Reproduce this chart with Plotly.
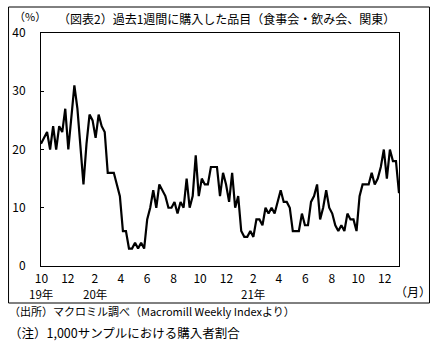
import pandas as pd
import plotly.graph_objects as go

# Weekly share of purchasers (%), Oct 2019 - Dec 2021
values_2019 = [21, 22, 23, 20, 24, 20, 24, 23, 27, 20, 26, 31, 27]
values_2020 = [20, 14, 21, 26, 25, 22, 26, 24, 23, 16, 16, 16, 14, 12, 6, 6, 3, 3, 4, 3,
               4, 3, 8, 10, 13, 10, 14, 13, 12, 10, 10, 11, 9, 11, 10, 15, 10, 12, 19, 12,
               15, 14, 14, 17, 17, 17, 12, 16, 14, 11, 16, 10, 12]
values_2021 = [6, 5, 5, 6, 5, 8, 8, 7, 10, 9, 10, 9, 11, 13, 11, 11, 10, 6, 6, 6,
               9, 7, 7, 11, 12, 14, 8, 10, 13, 10, 9, 7, 6, 7, 6, 9, 8, 8, 6, 12,
               14, 14, 14, 16, 14, 15, 17, 20, 15, 20, 18, 18, 12.5]
values = values_2019 + values_2020 + values_2021
weeks = pd.date_range("2019-09-30", periods=len(values), freq="7D")

tick_dates = ["2019-10-01", "2019-12-01", "2020-02-01", "2020-04-01", "2020-06-01",
              "2020-08-01", "2020-10-01", "2020-12-01", "2021-02-01", "2021-04-01",
              "2021-06-01", "2021-08-01", "2021-10-01", "2021-12-01"]
tick_labels = ["10", "12", "2", "4", "6", "8", "10", "12", "2", "4", "6", "8", "10", "12"]
year_dates = ["2019-10-01", "2020-02-01", "2021-02-01"]
year_labels = ["19年", "20年", "21年"]

title = "（図表2）過去1週間に購入した品目（食事会・飲み会、関東）"
note1 = "（出所）マクロミル調べ（Macromill Weekly Indexより）"
note2 = "（注）1,000サンプルにおける購入者割合"

FONT = "Noto Sans CJK JP"
L, R, T, B = 35, 399, 33, 266
W, H = 444, 344


def px(x):
    return (x - L) / (R - L)


def py(y):
    return (B - y) / (B - T)


fig = go.Figure()
fig.add_trace(go.Scatter(x=weeks, y=values, mode="lines",
                         line=dict(color="black", width=2.2), showlegend=False,
                         hoverinfo="skip"))

fig.update_layout(
    width=W, height=H,
    margin=dict(l=L, r=W - R, t=T, b=H - B, pad=0),
    paper_bgcolor="white", plot_bgcolor="white",
    font=dict(family=FONT, size=12, color="black"),
    xaxis=dict(range=[weeks[0], weeks[-1]], tickmode="array",
               tickvals=tick_dates, ticktext=tick_labels, ticks="",
               showgrid=False, zeroline=False, showline=True, linecolor="black",
               linewidth=1, mirror=True, ticklabelstandoff=2,
               tickfont=dict(family=FONT, size=12)),
    yaxis=dict(range=[0, 40], dtick=10, ticks="inside", ticklen=3,
               tickcolor="black", showgrid=False, zeroline=False,
               showline=True, linecolor="black", linewidth=1, mirror=True,
               ticklabelstandoff=12, tickfont=dict(family=FONT, size=12)),
)

ann = []
ann.append(dict(text=title, x=px(224), y=py(18), xref="paper", yref="paper",
                xanchor="center", yanchor="middle", showarrow=False,
                font=dict(size=12)))
ann.append(dict(text="（%）", x=px(6), y=py(16), xref="paper", yref="paper",
                xanchor="left", yanchor="middle", showarrow=False,
                font=dict(size=11)))
for d, t in zip(year_dates, year_labels):
    ann.append(dict(text=t, x=d, y=py(293.5), xref="x", yref="paper",
                    xanchor="center", yanchor="middle", showarrow=False,
                    font=dict(size=11.5)))
ann.append(dict(text="（月）", x=px(413), y=py(291), xref="paper", yref="paper",
                xanchor="center", yanchor="middle", showarrow=False,
                font=dict(size=12)))
ann.append(dict(text=note1, x=px(0), y=py(310.5), xref="paper", yref="paper",
                xanchor="left", yanchor="middle", showarrow=False,
                font=dict(size=11)))
ann.append(dict(text=note2, x=px(0), y=py(332), xref="paper", yref="paper",
                xanchor="left", yanchor="middle", showarrow=False,
                font=dict(size=12.5)))
fig.update_layout(annotations=ann)

fig.add_shape(type="rect", xref="paper", yref="paper",
              x0=px(2), x1=px(430), y0=py(303), y1=py(7),
              line=dict(color="black", width=1), fillcolor="rgba(0,0,0,0)",
              layer="above")

fig.write_html("out.html")
